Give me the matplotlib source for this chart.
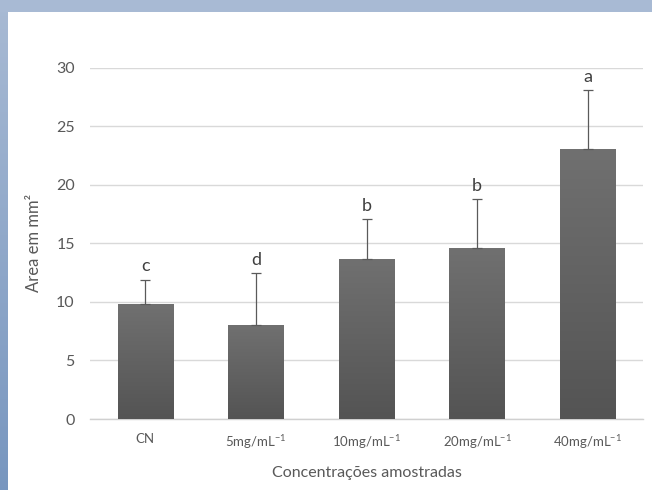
import numpy as np
import matplotlib
matplotlib.use("Agg")
import matplotlib.pyplot as plt
from matplotlib.patches import Rectangle

categories = ["CN", "5mg/mL$^{\\mathregular{-1}}$", "10mg/mL$^{\\mathregular{-1}}$",
              "20mg/mL$^{\\mathregular{-1}}$", "40mg/mL$^{\\mathregular{-1}}$"]
means = [9.8, 8.0, 13.65, 14.6, 23.05]
errors = [2.1, 4.45, 3.4, 4.2, 5.05]
letters = ["c", "d", "b", "b", "a"]
yticks = [0, 5, 10, 15, 20, 25, 30]

plt.rcParams['font.family'] = ['Lato', 'DejaVu Sans']
W, H = 652, 490
fig = plt.figure(figsize=(W / 100, H / 100), dpi=100)
fig.patch.set_facecolor("white")

# blue frame (top & left) as gradient
bg = fig.add_axes([0, 0, 1, 1], zorder=-10)
bg.set_axis_off()
bg.set_xlim(0, W); bg.set_ylim(H, 0)
yy = np.linspace(0, 1, 200)[:, None]
top_c = np.array([0.66, 0.73, 0.83])
bot_c = np.array([0.47, 0.59, 0.75])
grad = top_c[None, None, :] * (1 - yy[..., None]) + bot_c[None, None, :] * yy[..., None]
bg.imshow(grad, extent=[0, 8, H, 0], aspect='auto')
bg.add_patch(Rectangle((0, 0), W, 12, color=top_c, lw=0))

ax = fig.add_axes([90 / W, 71 / H, 553 / W, (419 - 67.7) / H])
ax.set_facecolor("none")
x = np.arange(len(categories))
bars = ax.bar(x, means, width=0.5, color="#5e5e5e", zorder=3)

# gradient fill on bars
gimg = np.linspace(0, 1, 100)[:, None]
cmap = matplotlib.colors.LinearSegmentedColormap.from_list("g", ["#707070", "#545454"])
for b in bars:
    x0, w, h = b.get_x(), b.get_width(), b.get_height()
    im = ax.imshow(gimg, cmap=cmap, extent=[x0, x0 + w, 0, h], aspect='auto', zorder=4)
    im.set_clip_path(b)

ax.errorbar(x, means, yerr=[np.zeros(len(errors)), errors], fmt='none',
            ecolor="#5a5a5a", elinewidth=0.9, capsize=3.5, capthick=0.9, zorder=5)

for xi, m, e, l in zip(x, means, errors, letters):
    ax.text(xi, m + e + 0.45, l, ha='center', va='bottom', fontsize=13,
            color="#404040", clip_on=False)

ax.set_xlim(-0.5, len(categories) - 0.5)
ax.set_ylim(0, 30)
ax.set_yticks(yticks)
ax.grid(axis='y', color="#d9d9d9", lw=1, zorder=0)
ax.set_axisbelow(True)
for s in ["top", "right", "left"]:
    ax.spines[s].set_visible(False)
ax.spines["bottom"].set_color("#d0d0d0")
ax.spines["bottom"].set_linewidth(1)
ax.tick_params(axis='both', length=0, colors="#595959")
ax.tick_params(axis='y', labelsize=11.5, pad=11)
ax.tick_params(axis='x', labelsize=9.5, pad=10)
ax.set_xticks(x)
ax.set_xticklabels(categories)
ax.set_ylabel("Area em mm²", fontsize=12, color="#595959", labelpad=10)
ax.set_xlabel("Concentrações amostradas", fontsize=11.5, color="#595959", labelpad=11)

fig.savefig("out.png", dpi=100, facecolor="white")
